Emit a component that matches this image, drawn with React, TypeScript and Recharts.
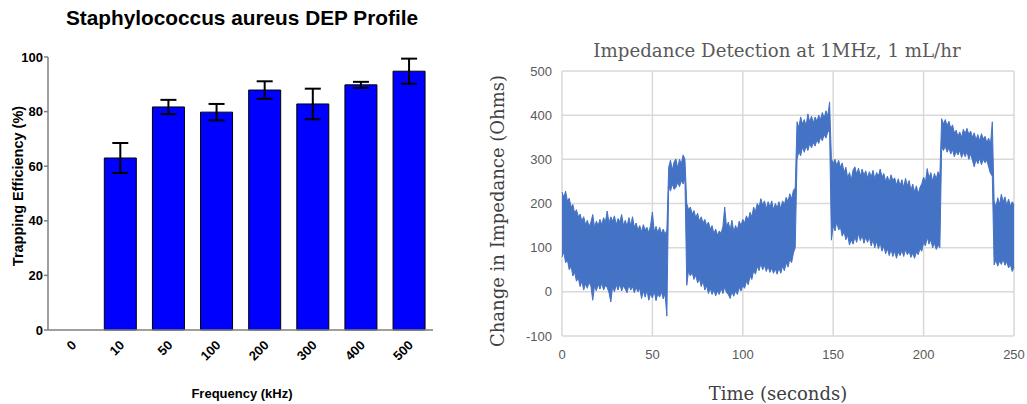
import {
  BarChart,
  Bar,
  XAxis,
  YAxis,
  ErrorBar,
  ComposedChart,
  Area,
  CartesianGrid,
} from "recharts";

// DEP profile: trapping efficiency per frequency (mean, ± SD)
const frequencies = ["0", "10", "50", "100", "200", "300", "400", "500"];
const trapping = [null, 63, 81.7, 79.8, 87.9, 82.8, 89.8, 94.8];
const trappingSd = [null, 5.5, 2.6, 3, 3.2, 5.6, 1.1, 4.6];
const trappingTicks = [0, 20, 40, 60, 80, 100];

// impedance trace, one sample per second, stored as upper / lower envelope
// of the noise band for each flow segment
const hiA = [
  226, 214, 228, 205, 212, 192, 198, 178, 186, 170,
  176, 160, 170, 152, 162, 148, 158, 175, 146, 160,
  150, 164, 152, 168, 158, 183, 156, 170, 160, 172,
  152, 166, 158, 175, 150, 162, 148, 168, 150, 170,
  146, 156, 140, 150, 136, 152, 140, 146, 134, 150,
  181, 136, 148, 134, 146, 132, 142, 130, 140,
];
const loA = [
  79, 90, 66, 72, 50, 58, 36, 44, 24, 32,
  12, 24, 4, 18, 8, 22, 12, -19, 14, 2,
  18, 6, 20, 4, 14, 10, -2, -23, 12, 0,
  16, 4, 18, 2, 14, 6, -2, 16, 4, 12,
  -2, 10, 0, 8, -15, 2, -12, 4, -19, -4,
  -14, 2, -20, -4, -12, 0, -16, -4, -55,
];
const hiB = [282, 298, 276, 294, 301, 280, 300, 290, 310, 300];
const loB = [240, 228, 244, 232, 236, 248, 238, 252, 244, 256];
const hiC = [
  200, 186, 192, 176, 184, 168, 178, 160, 170, 156,
  164, 150, 158, 142, 150, 132, 142, 128, 138, 132,
  148, 192, 146, 158, 140, 162, 136, 150, 140, 160,
  150, 164, 156, 172, 162, 180, 170, 192, 182, 200,
  192, 211, 196, 206, 188, 204, 192, 206, 186, 200,
  190, 204, 188, 206, 198, 214, 204, 222, 210, 230,
  235,
];
const loC = [
  15, 48, 36, 44, 28, 38, 20, 30, 12, 24,
  4, 14, -4, 8, -6, 4, -9, 2, -6, 8,
  -4, 11, -2, -6, -15, 0, -10, 2, -6, 10,
  2, 14, 8, 24, 16, 36, 28, 48, 40, 58,
  48, 64, 50, 60, 46, 58, 44, 54, 42, 52,
  40, 54, 42, 58, 48, 66, 56, 74, 66, 88,
  100,
];
const hiD = [
  385, 372, 396, 380, 390, 376, 403, 384, 398, 382,
  396, 386, 400, 390, 406, 394, 410, 398, 430,
];
const loD = [
  300, 318, 308, 328, 316, 330, 320, 336, 326, 338,
  330, 344, 336, 350, 342, 356, 348, 362, 365,
];
const hiE = [
  302, 290, 300, 286, 298, 282, 292, 270, 282, 258,
  270, 253, 276, 283, 266, 280, 262, 278, 264, 274,
  258, 272, 260, 275, 256, 270, 262, 278, 260, 268,
  250, 262, 248, 265, 252, 258, 242, 256, 240, 254,
  236, 257, 240, 252, 230, 244, 226, 240, 222, 236,
  245, 260, 248, 279, 258, 270, 250, 268, 256, 272,
  264,
];
const loE = [
  117, 150, 138, 159, 140, 146, 126, 136, 118, 128,
  106, 118, 108, 124, 112, 132, 116, 128, 110, 124,
  112, 124, 104, 118, 100, 114, 98, 110, 92, 104,
  86, 98, 82, 96, 80, 92, 76, 90, 82, 94,
  80, 96, 84, 92, 78, 88, 76, 90, 84, 98,
  92, 112, 104, 124, 108, 118, 100, 110, 96, 106,
  100,
];
const hiF = [
  392, 380, 390, 376, 386, 370, 378, 360, 366, 352,
  362, 350, 368, 358, 370, 356, 364, 350, 360, 344,
  356, 342, 358, 346, 352, 338, 348, 334, 385,
];
const loF = [
  328, 320, 330, 316, 326, 312, 322, 306, 318, 310,
  320, 304, 316, 306, 318, 300, 312, 298, 283, 300,
  290, 302, 288, 300, 292, 298, 282, 268, 262,
];
const hiG = [206, 192, 213, 198, 221, 204, 215, 196, 210, 194, 204, 197];
const loG = [61, 72, 58, 70, 62, 74, 60, 68, 54, 62, 46, 56];

const timeTicks = [0, 50, 100, 150, 200, 250];
const ohmTicks = [-100, 0, 100, 200, 300, 400, 500];

const upper = [...hiA, ...hiB, ...hiC, ...hiD, ...hiE, ...hiF, ...hiG];
const lower = [...loA, ...loB, ...loC, ...loD, ...loE, ...loF, ...loG];

const depData = frequencies.map((f, i) => ({
  freq: f,
  eff: trapping[i],
  sd: trappingSd[i],
}));

const traceData = upper.map((hi, i) => ({ t: i, band: [lower[i], hi] }));

const ARIAL = "'Liberation Sans', Arial, sans-serif";
const SERIF = "'DejaVu Serif', Cambria, serif";

function FreqTick({ x, payload }: any) {
  const ax = x + 5;
  const ay = 346;
  return (
    <text
      x={ax}
      y={ay}
      transform={`rotate(-45 ${ax} ${ay})`}
      textAnchor="end"
      fontFamily={ARIAL}
      fontWeight="bold"
      fontSize={13}
      fill="#000"
    >
      {payload.value}
    </text>
  );
}

function DepProfile() {
  return (
    <div style={{ position: "absolute", left: 0, top: 0, width: 440, height: 404 }}>
      <div
        style={{
          position: "absolute",
          left: 0,
          width: 484,
          top: 6,
          textAlign: "center",
          fontFamily: ARIAL,
          fontWeight: "bold",
          fontSize: 20.8,
          color: "#000",
        }}
      >
        Staphylococcus aureus DEP Profile
      </div>
      <BarChart
        width={440}
        height={404}
        data={depData}
        margin={{ top: 57, right: 7, bottom: 0, left: 0 }}
        barCategoryGap="17%"
      >
        <XAxis
          dataKey="freq"
          height={74}
          tick={<FreqTick />}
          tickLine={false}
          axisLine={{ stroke: "#7f7f7f", strokeWidth: 1.5 }}
          interval={0}
        />
        <YAxis
          width={48}
          domain={[0, 100]}
          ticks={trappingTicks}
          tickSize={4}
          tickMargin={1}
          axisLine={{ stroke: "#7f7f7f", strokeWidth: 1.5 }}
          tickLine={{ stroke: "#7f7f7f", strokeWidth: 1.5 }}
          tick={{ fontFamily: ARIAL, fontWeight: "bold", fontSize: 13, fill: "#000" }}
        />
        <Bar dataKey="eff" fill="#0000ff" stroke="#000" strokeWidth={1} isAnimationActive={false}>
          <ErrorBar dataKey="sd" width={8} stroke="#000" strokeWidth={2} isAnimationActive={false} />
        </Bar>
      </BarChart>
      <div
        style={{
          position: "absolute",
          left: 18,
          top: 186,
          transform: "translate(-50%, -50%) rotate(-90deg)",
          whiteSpace: "nowrap",
          fontFamily: ARIAL,
          fontWeight: "bold",
          fontSize: 14.5,
        }}
      >
        Trapping Efficiency (%)
      </div>
      <div
        style={{
          position: "absolute",
          left: 242,
          top: 393,
          transform: "translate(-50%, -50%)",
          whiteSpace: "nowrap",
          fontFamily: ARIAL,
          fontWeight: "bold",
          fontSize: 13,
        }}
      >
        Frequency (kHz)
      </div>
    </div>
  );
}

function ImpedanceTrace() {
  return (
    <div style={{ position: "absolute", left: 480, top: 0, width: 547, height: 404 }}>
      <div
        style={{
          position: "absolute",
          left: 297,
          top: 50,
          transform: "translate(-50%, -50%)",
          whiteSpace: "nowrap",
          fontFamily: SERIF,
          fontSize: 18.2,
          color: "#595959",
        }}
      >
        Impedance Detection at 1MHz, 1 mL/hr
      </div>
      <ComposedChart
        width={547}
        height={404}
        data={traceData}
        margin={{ top: 71, right: 13, bottom: 0, left: 0 }}
      >
        <CartesianGrid stroke="#d9d9d9" strokeWidth={1.5} />
        <XAxis
          type="number"
          dataKey="t"
          domain={[0, 250]}
          ticks={timeTicks}
          height={68}
          axisLine={false}
          tickLine={false}
          tickSize={0}
          tickMargin={14}
          tick={{ fontFamily: ARIAL, fontSize: 13, fill: "#595959" }}
        />
        <YAxis
          width={82}
          domain={[-100, 500]}
          ticks={ohmTicks}
          axisLine={false}
          tickLine={false}
          tickSize={0}
          tickMargin={10}
          tick={{ fontFamily: ARIAL, fontSize: 13, fill: "#595959" }}
        />
        <Area
          type="linear"
          dataKey="band"
          stroke="#4472c4"
          strokeWidth={1}
          fill="#4472c4"
          fillOpacity={1}
          dot={false}
          activeDot={false}
          isAnimationActive={false}
        />
      </ComposedChart>
      <div
        style={{
          position: "absolute",
          left: 17,
          top: 211,
          transform: "translate(-50%, -50%) rotate(-90deg)",
          whiteSpace: "nowrap",
          fontFamily: SERIF,
          fontSize: 18,
          color: "#404040",
        }}
      >
        Change in Impedance (Ohms)
      </div>
      <div
        style={{
          position: "absolute",
          left: 298,
          top: 393,
          transform: "translate(-50%, -50%)",
          whiteSpace: "nowrap",
          fontFamily: SERIF,
          fontSize: 18,
          color: "#404040",
        }}
      >
        Time (seconds)
      </div>
    </div>
  );
}

export default function App() {
  return (
    <div
      style={{
        position: "absolute",
        left: 0,
        top: 0,
        width: 1027,
        height: 404,
        background: "#fff",
        overflow: "hidden",
      }}
    >
      <DepProfile />
      <ImpedanceTrace />
    </div>
  );
}
